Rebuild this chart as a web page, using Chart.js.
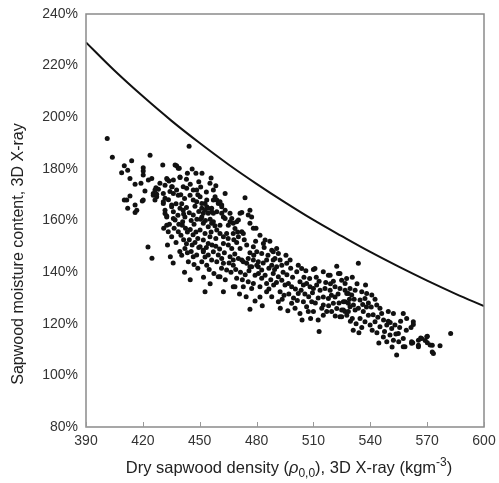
<!DOCTYPE html>
<html>
<head>
<meta charset="utf-8">
<script src="https://cdn.jsdelivr.net/npm/chart.js@4/dist/chart.umd.min.js"></script>
<style>
  html, body { margin: 0; padding: 0; background: #fff; }
  #wrap { width: 499px; height: 483px; }
</style>
</head>
<body>
<div id="wrap"><canvas id="moistureChart" width="499" height="483"></canvas></div>
<script>
// ---- data ----
// upper limit curve (solid line)
const curveDensity  = [390, 405, 420, 435, 450, 465, 480, 495, 510, 525, 540, 555, 570, 585, 600];
const curveMoisture = [229.0, 218.1, 208.1, 198.7, 190.0, 181.8, 174.2, 167.0, 160.2, 153.9, 147.8, 142.1, 136.7, 131.6, 126.8];

// measured samples [density, moisture %]
const samples = [
  // 400-430
  [401.2,191.8],[403.9,184.5],[408.8,178.5],[410.2,181.2],[412.0,179.5],[414.1,183.1],[413.2,176.3],[415.9,174.0],
  [419.0,174.4],[420.2,180.4],[420.2,179.2],[420.2,177.6],[422.9,175.7],[424.7,176.3],[423.8,185.3],[421.1,171.4],
  [426.9,172.7],[428.2,172.1],[410.2,167.9],[411.5,167.9],[413.2,169.5],[415.9,166.0],[416.8,164.0],[415.9,163.1],
  [412.0,164.7],[419.7,167.6],[425.5,169.8],[427.3,169.2],[426.4,167.9],[420.2,167.9],[422.7,149.7],[424.8,145.4],
  [429.0,174.4],[426.4,171.8],[425.5,170.5],[427.3,170.2],
  // 430-440
  [430.5,181.5],[432.6,176.3],[433.8,175.3],[437.0,181.5],[438.7,180.2],[439.6,176.9],[435.5,173.1],[437.8,171.8],
  [430.8,170.5],[431.7,168.6],[430.8,166.6],[431.7,162.7],[432.6,161.4],[435.2,165.3],[436.1,163.4],[437.0,160.2],
  [432.6,158.2],[433.4,155.6],[435.2,153.7],[438.7,155.6],[437.8,181.2],[439.2,180.2],[439.6,176.7],[432.9,175.9],
  [436.1,175.7],[431.7,173.7],[435.2,173.1],[434.3,171.2],[436.1,170.5],[438.7,169.8],[430.8,167.3],[435.2,166.0],
  [431.7,164.0],[432.6,161.7],[439.6,164.7],[436.1,160.8],[433.5,168.0],[437.5,166.5],[438.5,162.0],[434.0,158.5],
  [436.5,157.0],[439.0,158.5],[431.0,157.0],[433.0,150.5],[437.5,151.5],[439.5,148.0],[434.5,146.0],[436.0,143.5],
  // 440-450
  [440.1,154.3],[440.8,158.2],[444.4,188.8],[443.5,178.3],[448.0,178.3],[441.3,173.1],[443.1,172.5],[446.6,171.8],
  [448.4,171.8],[444.9,169.8],[446.6,167.9],[448.4,167.3],[441.3,164.0],[442.2,161.4],[446.6,162.1],[442.2,149.2],
  [444.0,144.0],[446.6,146.0],[448.4,146.6],[440.5,166.5],[441.5,162.5],[443.0,165.0],[444.5,163.0],[445.5,160.0],
  [447.0,158.5],[448.5,160.5],[449.5,163.5],[441.0,159.5],[442.5,157.0],[443.5,155.5],[445.0,156.5],[446.5,154.5],
  [448.0,155.5],[449.0,153.0],[441.5,152.5],[443.0,151.0],[444.5,152.5],[446.0,150.5],[447.5,151.5],[449.5,149.5],
  [440.5,146.5],[443.5,147.5],[445.5,148.0],[447.0,143.0],[449.0,141.5],[442.0,140.0],[445.0,137.0],[440.0,170.0],
  [442.0,168.5],[447.5,165.5],[449.0,170.0],[443.0,176.0],[445.0,174.0],[449.5,175.0],[446.0,180.0],
  // 450-460
  [451.2,178.3],[455.4,174.4],[457.2,171.8],[458.1,169.2],[450.2,169.2],[451.1,166.6],[452.8,166.6],[451.9,162.8],
  [453.7,165.3],[456.3,164.7],[459.0,163.4],[454.5,164.7],[456.3,163.4],[459.0,167.9],[453.7,167.9],[457.2,167.9],
  [459.8,166.6],[451.1,164.7],[452.8,164.0],[454.5,162.8],[457.2,162.8],[451.1,161.4],[451.9,158.9],[454.5,157.6],
  [456.3,158.9],[450.2,156.3],[452.8,155.0],[455.4,153.7],[451.9,152.4],[454.5,151.1],[459.0,156.3],[457.2,159.5],
  [450.2,149.8],[451.9,147.9],[452.8,145.9],[451.1,144.0],[453.7,142.7],[457.2,147.9],[459.8,146.6],[459.0,144.0],
  [451.9,148.5],[454.5,146.6],[456.3,144.7],[459.8,138.2],[452.8,132.4],[450.5,160.5],[453.0,160.0],[455.5,160.5],
  [458.0,158.0],[456.0,155.5],[458.5,153.0],[453.5,149.5],[456.5,150.5],[458.5,150.0],[455.0,141.0],[457.5,139.5],
  [452.0,138.0],[455.5,135.5],[450.5,173.0],[453.5,171.0],[456.0,176.5],[458.5,173.5],
  // 460-470
  [463.4,170.5],[460.7,167.3],[461.6,166.0],[463.4,164.0],[466.0,162.8],[462.5,161.4],[466.9,160.8],[460.7,158.2],
  [465.1,158.2],[468.6,156.9],[461.6,165.3],[461.6,162.8],[463.4,160.8],[466.0,159.5],[467.7,158.9],[469.5,159.5],
  [460.7,155.0],[462.5,153.7],[464.2,155.0],[467.7,155.0],[462.5,151.1],[465.1,150.5],[466.9,149.2],[461.6,145.3],
  [466.0,146.0],[467.7,144.7],[462.5,143.4],[464.2,140.8],[460.7,138.2],[469.5,137.6],[467.7,134.3],[462.5,132.4],
  [468.6,134.3],[467.7,142.7],[460.5,149.0],[463.0,147.5],[465.5,143.5],[468.5,147.0],[469.5,151.5],[461.5,141.5],
  [466.5,140.0],[463.5,137.0],[469.0,141.0],[465.0,153.0],[468.0,152.5],[470.0,155.5],
  // 470-480
  [473.9,168.8],[472.2,163.1],[476.5,164.0],[477.4,161.4],[470.4,160.2],[476.5,158.9],[479.7,157.0],[472.2,155.6],
  [471.3,162.8],[475.6,162.1],[478.3,157.0],[470.4,153.7],[473.0,155.0],[471.3,149.2],[474.8,150.5],[478.3,149.8],
  [470.4,145.3],[473.0,144.0],[475.6,145.3],[478.3,144.7],[476.5,142.1],[472.2,144.7],[474.8,143.4],[477.4,142.1],
  [479.2,138.8],[475.6,136.3],[478.3,135.6],[473.0,134.3],[477.4,133.7],[479.2,128.8],[476.5,125.6],[471.5,140.0],
  [474.0,139.0],[476.0,140.5],[472.5,137.0],[478.5,146.5],[479.5,152.0],[473.5,152.5],[476.5,147.5],[471.0,131.5],
  [474.5,130.5],
  // 480-490
  [481.8,154.3],[484.5,152.4],[483.6,151.1],[488.0,148.5],[480.1,147.9],[482.7,147.2],[480.9,144.0],[485.3,144.7],
  [488.8,144.7],[480.9,142.1],[480.1,142.7],[482.7,140.8],[482.7,137.6],[484.5,138.8],[485.3,135.6],[481.8,134.3],
  [481.8,130.4],[485.3,132.4],[488.8,147.9],[489.7,145.3],[488.0,142.7],[488.8,139.5],[486.5,141.5],[487.5,137.0],
  [483.5,143.5],[486.0,146.5],[484.0,149.5],[489.5,141.0],[481.0,139.5],[486.5,133.5],[483.0,127.0],[488.0,130.5],
  [487.0,152.0],[489.0,135.0],
  // 490-500
  [490.6,149.2],[491.5,147.2],[492.4,144.7],[490.6,142.1],[493.3,142.7],[495.9,143.4],[497.7,144.7],[491.5,138.2],
  [493.3,136.9],[495.0,135.0],[496.8,135.6],[498.5,134.3],[492.4,132.4],[491.5,128.5],[498.5,127.9],[494.0,140.0],
  [496.0,139.0],[499.0,138.0],[494.5,131.0],[497.0,131.5],[499.5,130.0],[492.5,126.0],[496.5,125.0],[490.5,136.0],
  [495.5,146.5],[498.0,141.5],[493.5,129.5],
  // 500-510
  [502.0,142.7],[503.8,141.4],[501.2,140.1],[502.9,136.3],[504.7,135.0],[506.4,135.6],[508.2,134.3],[502.0,131.7],
  [504.7,128.5],[506.4,126.6],[509.1,128.5],[500.3,126.0],[502.9,124.0],[507.3,124.7],[500.5,133.5],[503.5,133.0],
  [505.5,131.5],[507.5,130.5],[509.5,132.0],[501.5,129.0],[505.0,138.0],[508.0,137.5],[506.0,140.5],[508.5,122.0],
  [504.0,121.5],
  // 510-520
  [510.0,141.0],[515.2,140.1],[517.9,138.8],[510.8,141.4],[510.0,133.7],[511.7,135.0],[513.5,133.0],[516.1,133.7],
  [518.8,133.0],[515.2,130.4],[517.9,129.8],[515.2,127.3],[517.0,124.7],[510.0,124.7],[514.4,126.0],[515.2,123.3],
  [519.6,124.7],[518.8,138.8],[512.5,130.0],[511.0,128.0],[513.0,136.5],[516.5,136.0],[519.0,135.5],[512.5,121.5],
  [513.0,117.0],[518.0,127.0],[519.5,131.0],[511.5,138.0],
  // 520-530
  [522.3,142.3],[523.2,139.5],[524.9,136.9],[526.7,135.6],[521.4,134.3],[524.0,133.7],[526.7,133.0],[528.4,131.7],
  [520.5,127.9],[522.3,125.9],[524.9,125.3],[521.4,130.4],[526.7,128.5],[529.3,126.6],[527.6,123.3],[524.9,122.7],
  [524.0,139.5],[524.0,122.7],[526.7,124.7],[529.3,133.7],[527.6,131.7],[525.8,128.5],[528.4,127.9],[525.8,125.3],
  [528.4,124.7],[520.5,136.5],[523.0,131.5],[521.5,123.0],[529.0,129.5],[527.5,137.5],[529.5,121.0],[523.5,128.0],
  // 530-540
  [533.7,143.4],[530.2,131.1],[532.0,133.0],[535.5,132.4],[538.1,131.7],[540.8,131.1],[537.2,129.8],[534.6,129.2],
  [531.1,127.3],[532.0,125.3],[533.7,126.0],[536.3,124.7],[539.0,123.3],[534.6,122.0],[537.2,120.8],[539.9,119.5],
  [530.5,122.0],[532.5,120.0],[535.5,118.5],[538.0,126.5],[531.5,129.5],[536.0,127.5],[539.0,128.0],[533.0,135.5],
  [530.5,138.0],[537.5,135.0],[531.0,117.5],[534.0,116.5],
  // 540-550
  [543.4,127.3],[545.1,126.0],[549.5,124.7],[542.5,120.8],[545.1,118.8],[548.7,119.5],[546.9,114.9],[541.5,123.5],
  [544.0,122.5],[547.0,121.5],[549.5,121.0],[541.0,117.5],[543.5,116.5],[548.7,113.0],[546.0,124.0],[540.5,126.5],
  [542.5,129.5],[547.5,117.0],[544.5,112.5],
  // 550-560
  [552.2,124.0],[557.4,124.0],[559.2,122.0],[551.3,118.2],[550.4,115.6],[554.8,116.2],[557.4,114.3],[552.2,113.6],
  [553.9,107.9],[558.3,111.1],[557.4,111.1],[550.5,120.5],[553.0,119.5],[555.5,118.5],[556.0,121.0],[551.5,111.0],
  [555.0,113.0],[559.0,117.5],[553.5,116.0],
  // 560-585
  [562.7,120.8],[562.7,119.7],[561.5,118.5],[562.4,112.6],[565.4,111.7],[566.6,114.5],[569.0,113.5],[570.1,115.2],
  [570.1,112.6],[572.7,111.7],[572.7,109.1],[576.8,111.5],[582.4,116.2],[561.8,112.4],[565.4,111.1],[567.1,114.3],
  [569.8,115.0],[571.6,111.8],[573.3,108.5],[565.4,113.6],[561.8,113.0]
];

const xTicks = [390, 420, 450, 480, 510, 540, 570, 600];
const yTicks = [80, 100, 120, 140, 160, 180, 200, 220, 240];

// x title pieces: [text, style]  (n = normal, i = italic, sub, sup)
const xTitleParts = [
  ['Dry sapwood density (', 'n'], ['\u03C1', 'i'], ['0,0', 'sub'],
  ['), 3D X-ray (kgm', 'n'], ['-3', 'sup'], [')', 'n']
];
const yTitle = 'Sapwood moisture content, 3D X-ray';

const FONT = 'Liberation Sans, Arial, sans-serif';

function partFont(style) {
  if (style === 'i') return 'italic 16.5px ' + FONT;
  if (style === 'sub' || style === 'sup') return '12px ' + FONT;
  return '16.5px ' + FONT;
}

// frame, inside tick marks and the two axis titles
const frameAndTitles = {
  id: 'frameAndTitles',
  afterDraw(chart) {
    const { ctx, chartArea: a, scales } = chart;
    ctx.save();
    ctx.strokeStyle = '#8a8a8a';
    ctx.lineWidth = 1.5;
    ctx.strokeRect(a.left, a.top, a.right - a.left, a.bottom - a.top);
    ctx.lineWidth = 1;
    ctx.strokeStyle = '#999';
    xTicks.forEach(v => {
      const px = Math.round(scales.x.getPixelForValue(v)) + 0.5;
      ctx.beginPath();
      ctx.moveTo(px, a.bottom);
      ctx.lineTo(px, a.bottom - 5);
      ctx.stroke();
    });

    // x axis title
    ctx.fillStyle = '#222';
    ctx.textBaseline = 'alphabetic';
    ctx.textAlign = 'left';
    let total = 0;
    xTitleParts.forEach(([t, s]) => { ctx.font = partFont(s); total += ctx.measureText(t).width; });
    let cx = 289 - total / 2;
    const base = 473;
    xTitleParts.forEach(([t, s]) => {
      ctx.font = partFont(s);
      const dy = s === 'sub' ? 4 : (s === 'sup' ? -7 : 0);
      ctx.fillText(t, cx, base + dy);
      cx += ctx.measureText(t).width;
    });

    // y axis title
    ctx.font = '16px ' + FONT;
    ctx.textAlign = 'center';
    ctx.translate(23, 254);
    ctx.rotate(-Math.PI / 2);
    ctx.fillText(yTitle, 0, 0);
    ctx.restore();
  }
};

new Chart(document.getElementById('moistureChart'), {
  type: 'scatter',
  data: {
    datasets: [
      {
        type: 'line',
        label: 'Upper limit',
        data: curveDensity.map((d, i) => ({ x: d, y: curveMoisture[i] })),
        borderColor: '#111',
        borderWidth: 2,
        pointRadius: 0,
        showLine: true,
        fill: false,
        tension: 0.4
      },
      {
        label: 'Samples',
        data: samples.map(s => ({ x: s[0], y: s[1] })),
        backgroundColor: '#111',
        borderWidth: 0,
        pointRadius: 2.5,
        pointHoverRadius: 2.5
      }
    ]
  },
  options: {
    responsive: false,
    animation: false,
    layout: { padding: { left: 0, right: 15, top: 14, bottom: 0 } },
    plugins: {
      legend: { display: false },
      tooltip: { enabled: false }
    },
    scales: {
      x: {
        type: 'linear',
        min: 390,
        max: 600,
        afterBuildTicks: s => { s.ticks = xTicks.map(v => ({ value: v })); },
        afterFit: s => { s.height = 56; s.paddingLeft = 0; s.paddingRight = 0; },
        grid: { display: false, drawTicks: false },
        border: { display: false },
        ticks: {
          padding: 6,
          color: '#333',
          font: { family: FONT, size: 14 },
          maxRotation: 0
        }
      },
      y: {
        type: 'linear',
        min: 80,
        max: 240,
        afterBuildTicks: s => { s.ticks = yTicks.map(v => ({ value: v })); },
        afterFit: s => { s.width = 86; s.paddingTop = 0; s.paddingBottom = 0; },
        grid: { display: false, drawTicks: false },
        border: { display: false },
        ticks: {
          padding: 8,
          color: '#333',
          font: { family: FONT, size: 14 },
          callback: v => v + '%'
        }
      }
    }
  },
  plugins: [frameAndTitles]
});
</script>
</body>
</html>
